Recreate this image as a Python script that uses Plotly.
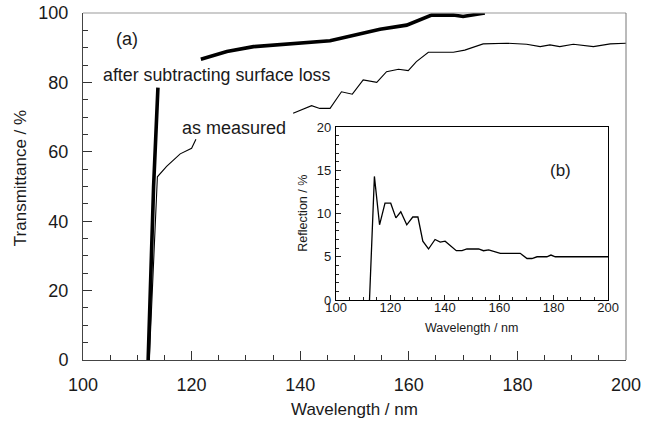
import plotly.graph_objects as go

# Main plot (a): transmittance
after_wl = [112.0, 113.0, 113.8, None, 121.7, 126.5, 131.4, 136.3, 140.5, 145.5, 148.5, 152.8, 154.7, 159.6, 164.2, 168.2, 170.0, 174.0]
after_T = [0.0, 50.0, 78.5, None, 86.7, 88.9, 90.3, 90.9, 91.5, 92.0, 93.1, 94.7, 95.3, 96.5, 99.4, 99.4, 99.0, 100.0]

meas_wl = [112.2, 113.7, 115.4, 117.9, 120.0, 120.8, None, 138.7, 142.1, 143.6, 145.5, 147.6, 149.6, 151.6, 154.1, 155.9,
           158.1, 159.9, 161.4, 163.6, 168.2, 170.3, 173.7, 178.0, 181.7, 184.2, 186.0, 187.8, 190.3, 194.0, 197.1, 200.0]
meas_T = [0.0, 52.8, 55.8, 59.4, 61.0, 63.6, None, 71.1, 73.3, 72.5, 72.5, 77.3, 76.6, 80.7, 80.0, 83.1,
          83.8, 83.4, 86.0, 88.7, 88.7, 89.3, 91.1, 91.3, 91.0, 90.3, 90.8, 90.3, 91.0, 90.3, 91.1, 91.3]

# Inset (b): reflection
refl_wl = [112.3, 114.1, 116.0, 118.0, 120.1, 122.0, 123.8, 126.0, 128.2, 130.1, 131.9, 134.0, 136.4, 138.3, 140.1,
           142.2, 144.2, 146.3, 148.1, 152.4, 154.2, 156.1, 158.5, 160.4, 167.7, 170.2, 172.0, 173.9, 177.5, 179.0,
           180.6, 189.8, 200.0]
refl_R = [0.0, 14.3, 8.7, 11.2, 11.2, 9.5, 10.2, 8.7, 9.6, 9.6, 6.8, 5.9, 7.0, 6.7, 6.8,
          6.2, 5.7, 5.7, 5.9, 5.9, 5.7, 5.8, 5.6, 5.4, 5.4, 4.8, 4.8, 5.0, 5.0, 5.2,
          5.0, 5.0, 5.0]

main_xticks = [100, 120, 140, 160, 180, 200]
main_yticks = [0, 20, 40, 60, 80, 100]
inset_xticks = [100, 120, 140, 160, 180, 200]
inset_yticks = [0, 5, 10, 15, 20]

FONT = "Liberation Sans, Arial, sans-serif"
TXT = "#1a1a1a"

fig = go.Figure()
fig.add_trace(go.Scatter(x=after_wl, y=after_T, mode="lines", line=dict(color="black", width=3.6),
                         connectgaps=False, showlegend=False, hoverinfo="skip"))
fig.add_trace(go.Scatter(x=meas_wl, y=meas_T, mode="lines", line=dict(color="black", width=1.1),
                         connectgaps=False, showlegend=False, hoverinfo="skip"))
fig.add_trace(go.Scatter(x=refl_wl, y=refl_R, mode="lines", line=dict(color="black", width=1.3),
                         xaxis="x2", yaxis="y2", showlegend=False, hoverinfo="skip"))


def ann(text, x, y, xref, yref, size, angle=0):
    return dict(text=text, x=x, y=y, xref=xref, yref=yref, showarrow=False, textangle=angle,
                xanchor="center", yanchor="middle", font=dict(size=size, color=TXT))


fig.update_layout(
    width=645, height=423,
    margin=dict(l=83, r=19, t=13, b=63, autoexpand=False),
    paper_bgcolor="white", plot_bgcolor="white",
    font=dict(family=FONT, color=TXT),
    xaxis=dict(range=[100, 200], domain=[0, 1], tickvals=main_xticks, ticks="inside", ticklen=9,
               tickcolor="#333", showline=True, linecolor="#444", linewidth=1, showgrid=False, zeroline=False,
               minor=dict(dtick=5, ticks="inside", ticklen=5, tickcolor="#333"), automargin=False,
               ticklabeloverflow="allow",
               tickfont=dict(size=18, color=TXT), ticklabelstandoff=8),
    yaxis=dict(range=[0, 100], domain=[0, 1], tickvals=main_yticks, ticks="inside", ticklen=9,
               tickcolor="#333", showline=True, linecolor="#444", linewidth=1, showgrid=False, zeroline=False,
               minor=dict(dtick=5, ticks="inside", ticklen=5, tickcolor="#333"), automargin=False,
               ticklabeloverflow="allow",
               tickfont=dict(size=18, color=TXT), ticklabelstandoff=10),
    xaxis2=dict(range=[100, 200], domain=[0.466, 0.967], anchor="y2", tickvals=inset_xticks,
                ticks="inside", ticklen=5, tickcolor="#222", showline=True, linecolor="black", linewidth=1.3,
                mirror=True, showgrid=False, zeroline=False, automargin=False, ticklabeloverflow="allow",
                minor=dict(dtick=5, ticks="inside", ticklen=3, tickcolor="#222"),
                tickfont=dict(size=13, color=TXT), ticklabelstandoff=-5),
    yaxis2=dict(range=[0, 20], domain=[0.173, 0.671], anchor="x2", tickvals=inset_yticks,
                ticks="inside", ticklen=5, tickcolor="#222", showline=True, linecolor="black", linewidth=1.3,
                mirror=True, showgrid=False, zeroline=False, automargin=False, ticklabeloverflow="allow",
                minor=dict(dtick=1, ticks="inside", ticklen=3, tickcolor="#222"),
                tickfont=dict(size=13, color=TXT), ticklabelstandoff=1),
    shapes=[
        dict(type="line", xref="paper", yref="paper", x0=0, x1=1, y0=1, y1=1, line=dict(color="#999", width=1)),
        dict(type="line", xref="paper", yref="paper", x0=1, x1=1, y0=0, y1=1, line=dict(color="#777", width=1)),
    ],
    annotations=[
        # axis titles
        ann("Wavelength / nm", 0.5, -0.144, "paper", "paper", 17),
        ann("Transmittance / %", -0.116, 0.524, "paper", "paper", 17, -90),
        ann("Wavelength / nm", 0.716, 0.092, "paper", "paper", 12.5),
        ann("Reflection / %", 0.405, 0.424, "paper", "paper", 12.5, -90),
        # panel labels
        ann("(a)", 108.1, 92.5, "x", "y", 18),
        ann("after subtracting surface loss", 124.5, 82.1, "x", "y", 17.8),
        ann("as measured", 127.8, 66.9, "x", "y", 18),
        ann("(b)", 182.4, 15.0, "x2", "y2", 17),
    ],
)

fig.write_html("out.html", config={"displayModeBar": False, "staticPlot": True},
               post_script="document.body.style.margin='0px';")
